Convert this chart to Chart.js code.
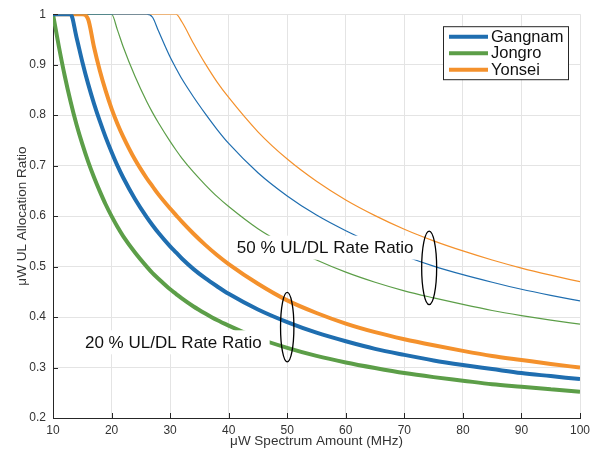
<!DOCTYPE html>
<html><head><meta charset="utf-8">
<script src="https://cdn.jsdelivr.net/npm/chart.js@4/dist/chart.umd.min.js"></script>
<style>html,body{margin:0;padding:0;background:#fff;}</style>
</head><body>
<canvas id="c" width="605" height="452"></canvas>
<script>
// ---- data ----
const xValues   = [10,11,12,13,14,15,16,17,18,19,20,21,22,24,26,27,28,30,31,32,34,36,38,40,45,50,55,60,65,70,75,80,85,90,95,100];
// 20 % UL/DL rate ratio (thick lines)
const gangnam20 = [1,1,1,1,0.955,0.906,0.862,0.823,0.788,0.756,0.727,0.700,0.676,0.634,0.598,0.582,0.567,0.540,0.528,0.516,0.495,0.477,0.461,0.446,0.415,0.390,0.369,0.352,0.337,0.325,0.314,0.305,0.297,0.289,0.283,0.277];
const jongro20  = [1,0.936,0.878,0.827,0.782,0.743,0.708,0.677,0.649,0.623,0.600,0.579,0.560,0.528,0.500,0.487,0.476,0.455,0.446,0.437,0.421,0.407,0.394,0.383,0.358,0.339,0.323,0.310,0.299,0.289,0.281,0.274,0.267,0.262,0.257,0.252];
const yonsei20  = [1,1,1,1,1,1,0.99,0.935,0.888,0.848,0.813,0.783,0.757,0.712,0.675,0.659,0.643,0.615,0.602,0.589,0.565,0.543,0.523,0.505,0.466,0.433,0.408,0.387,0.370,0.356,0.344,0.333,0.323,0.315,0.307,0.300];
// 50 % UL/DL rate ratio (thin lines)
const gangnam50 = [1,1,1,1,1,1,1,1,1,1,1,1,1,1,1,0.994,0.967,0.915,0.893,0.872,0.836,0.803,0.772,0.744,0.686,0.640,0.602,0.571,0.544,0.521,0.501,0.484,0.469,0.455,0.443,0.432];
const jongro50  = [1,1,1,1,1,1,1,1,1,1,1,0.969,0.935,0.877,0.827,0.805,0.785,0.748,0.731,0.715,0.687,0.662,0.639,0.619,0.575,0.541,0.513,0.489,0.469,0.452,0.438,0.425,0.413,0.403,0.394,0.386];
const yonsei50  = [1,1,1,1,1,1,1,1,1,1,1,1,1,1,1,1,1,1,1,0.985,0.942,0.902,0.866,0.835,0.767,0.713,0.669,0.632,0.601,0.574,0.551,0.531,0.513,0.497,0.483,0.470];
const seriesNames = ['Gangnam','Jongro','Yonsei'];
const xTicks = [10,20,30,40,50,60,70,80,90,100];
const xTickLabels = ['10','20','30','40','50','60','70','80','90','100'];
const yTicks = [0.2,0.3,0.4,0.5,0.6,0.7,0.8,0.9,1];
const yTickLabels = ['0.2','0.3','0.4','0.5','0.6','0.7','0.8','0.9','1'];
const annotationTexts = ['20 % UL/DL Rate Ratio','50 % UL/DL Rate Ratio'];

// ---- styling ----
const FONT = '"Liberation Sans", Arial, Helvetica, sans-serif';
const colors = {Gangnam:'#1f6eb0', Jongro:'#5c9e48', Yonsei:'#f4912c'};
const toPts = arr => arr.map((v,i)=>({x:xValues[i], y:v}));
function ds(name, arr, w){
  return {label:name, data:toPts(arr), borderColor:colors[name], backgroundColor:colors[name],
          borderWidth:w, pointRadius:0, fill:false, cubicInterpolationMode:'monotone'};
}
const datasets = [
  ds(seriesNames[0], gangnam20, 4), ds(seriesNames[1], jongro20, 4), ds(seriesNames[2], yonsei20, 4),
  ds(seriesNames[0], gangnam50, 1.2), ds(seriesNames[1], jongro50, 1.2), ds(seriesNames[2], yonsei50, 1.2)
];

// annotation placement (data coordinates)
const textNotes = [
  {text:annotationTexts[0], x:15.46, y:0.350, padL:3, padR:8},
  {text:annotationTexts[1], x:41.4,  y:0.5375, padL:4, padR:4}
];
const ellipses = [
  {x:50, y:0.380, rx:1.14, ry:0.0688},
  {x:74.24, y:0.4975, rx:1.28, ry:0.0729}
];

const overlay = {
  id:'overlay',
  afterDatasetsDraw(chart){
    const {ctx, chartArea:ca, scales:{x, y}} = chart;
    ctx.save();
    ctx.font = '17px ' + FONT;
    ctx.textBaseline = 'middle';
    textNotes.forEach(n=>{
      const px = x.getPixelForValue(n.x), py = y.getPixelForValue(n.y);
      const w = ctx.measureText(n.text).width;
      ctx.fillStyle = '#fff';
      ctx.fillRect(px-n.padL, py-12, w+n.padL+n.padR, 24);
      ctx.fillStyle = '#111';
      ctx.textAlign = 'left';
      ctx.fillText(n.text, px, py+1);
    });
    ctx.strokeStyle = '#000'; ctx.lineWidth = 1.3;
    ellipses.forEach(e=>{
      const cx = x.getPixelForValue(e.x), cy = y.getPixelForValue(e.y);
      const rx = Math.abs(x.getPixelForValue(e.x+e.rx)-cx), ry = Math.abs(y.getPixelForValue(e.y+e.ry)-cy);
      ctx.beginPath(); ctx.ellipse(cx, cy, rx, ry, 0, 0, Math.PI*2); ctx.stroke();
    });
    ctx.strokeStyle = '#262626'; ctx.lineWidth = 1;
    yTicks.forEach(v=>{ const py = Math.round(y.getPixelForValue(v))+0.5; ctx.beginPath(); ctx.moveTo(ca.left, py); ctx.lineTo(ca.left+5, py); ctx.stroke(); });
    xTicks.forEach(v=>{ const px = Math.round(x.getPixelForValue(v))+0.5; ctx.beginPath(); ctx.moveTo(px, ca.bottom); ctx.lineTo(px, ca.bottom-5); ctx.stroke(); });
    const lx = ca.right-137, ly = ca.top+12, lw = 125, lh = 53;
    ctx.fillStyle = '#fff'; ctx.fillRect(lx, ly, lw, lh);
    ctx.strokeStyle = '#262626'; ctx.lineWidth = 1; ctx.strokeRect(lx+0.5, ly+0.5, lw, lh);
    ctx.font = '16.5px ' + FONT; ctx.textAlign='left'; ctx.textBaseline='middle';
    seriesNames.forEach((name,i)=>{
      const yy = ly + 10.5 + i*16.5;
      ctx.strokeStyle = colors[name]; ctx.lineWidth = 4;
      ctx.beginPath(); ctx.moveTo(lx+6, yy); ctx.lineTo(lx+45, yy); ctx.stroke();
      ctx.fillStyle = '#111'; ctx.fillText(name, lx+48, yy+0.5);
    });
    ctx.restore();
  }
};

new Chart(document.getElementById('c'), {
  type:'line',
  data:{datasets},
  options:{
    responsive:false, animation:false, devicePixelRatio:1,
    layout:{autoPadding:false, padding:{top:3, right:25, left:0, bottom:0}},
    plugins:{legend:{display:false}, tooltip:{enabled:false}},
    scales:{
      x:{type:'linear', min:10, max:100,
        afterBuildTicks:s=>{ s.ticks = xTicks.map(v=>({value:v})); },
        afterFit:s=>{ s.height = 34; },
        grid:{color:'#e4e4e4', lineWidth:1, drawTicks:false},
        border:{color:'#262626', width:1},
        ticks:{padding:5, color:'#333', font:{family:FONT, size:12}, maxRotation:0, autoSkip:false,
               callback:(v,i)=>xTickLabels[i]},
        title:{display:true, text:'μW Spectrum Amount (MHz)', color:'#333', font:{family:FONT, size:13.5}, padding:{top:0, bottom:3}}
      },
      y:{type:'linear', min:0.2, max:1,
        afterBuildTicks:s=>{ s.ticks = yTicks.map(v=>({value:v})); },
        afterFit:s=>{ s.width = 53; },
        grid:{color:'#e4e4e4', lineWidth:1, drawTicks:false},
        border:{color:'#262626', width:1},
        ticks:{padding:7, color:'#333', font:{family:FONT, size:12}, autoSkip:false,
               callback:(v,i)=>yTickLabels[i]},
        title:{display:true, text:'μW UL Allocation Ratio', color:'#333', font:{family:FONT, size:13.5}, padding:{top:14, bottom:0}}
      }
    }
  },
  plugins:[overlay]
});
</script>
</body></html>
